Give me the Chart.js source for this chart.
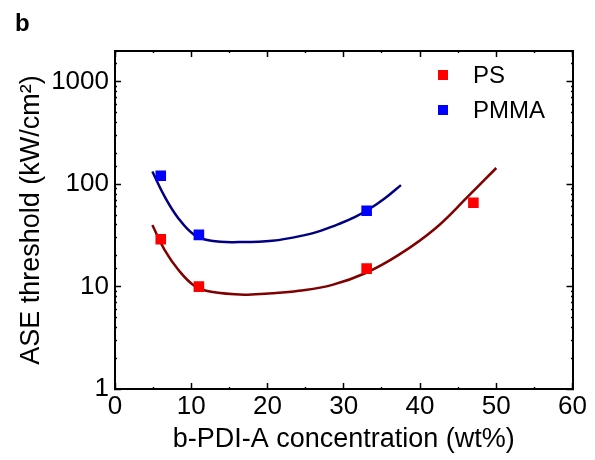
<!DOCTYPE html>
<html><head><meta charset="utf-8">
<script src="https://cdn.jsdelivr.net/npm/chart.js@4.4.1/dist/chart.umd.min.js"></script>
<style>html,body{margin:0;padding:0;background:#fff}#wrap{width:595px;height:460px}</style>
</head><body><div id="wrap"><canvas id="c" width="595" height="460"></canvas></div>
<script>
// measured data points
const psX = [6, 11, 33, 47];
const psY = [29, 10, 15, 66];
const pmmaX = [6, 11, 33];
const pmmaY = [121, 32, 55];
// fitted curves
const psFitX = [4.9, 6.5, 8.3, 10.4, 12.6, 17, 20.6, 24.1, 28.5, 32.8, 37.2, 42, 46.3, 50];
const psFitY = [40, 22.8, 14.6, 10.2, 8.9, 8.35, 8.6, 9.1, 10.4, 13.5, 20.4, 37, 76, 144];
const pmmaFitX = [4.9, 6.5, 8.3, 10.4, 12.6, 16.3, 20.6, 25, 27.2, 29.4, 31.5, 33.3, 35.4, 37.5];
const pmmaFitY = [133, 76, 46.6, 32, 28, 27.2, 28, 32, 35.6, 41, 48, 57, 73, 98];
const xTickLabels = [0, 10, 20, 30, 40, 50, 60];
const yTickLabels = [1, 10, 100, 1000];
const seriesNames = ['PS', 'PMMA'];

const FONT = "'Liberation Sans', Arial, Helvetica, sans-serif";
const pts = (xs, ys) => xs.map((x, i) => ({x: x, y: ys[i]}));
const isDecade = v => Math.abs(Math.log10(v) - Math.round(Math.log10(v))) < 1e-9;

const legendPlugin = {
  id: 'boxLegend',
  afterDatasetsDraw(chart) {
    const {ctx, chartArea: a} = chart;
    ctx.save();
    ctx.font = "24px " + FONT;
    ctx.textBaseline = 'alphabetic';
    ctx.textAlign = 'left';
    [0, 1].forEach(i => {
      const ds = chart.data.datasets[i];
      const cy = a.top + 24 + i * 35;
      ctx.fillStyle = ds.backgroundColor;
      ctx.fillRect(a.left + 323, cy - 5, 10, 10);
      ctx.fillStyle = '#000';
      ctx.fillText(ds.label, a.left + 358, cy + 8);
    });
    ctx.restore();
  }
};

const tickDashIn = ctx => (ctx.tick && isDecade(ctx.tick.value)) ? [] : [3, 20];
const tickDashOut = ctx => (ctx.tick && isDecade(ctx.tick.value)) ? [] : [0, 4, 4, 20];
const xDashIn = ctx => (ctx.tick && ctx.tick.value % 10 === 0) ? [] : [3, 20];
const xDashOut = ctx => (ctx.tick && ctx.tick.value % 10 === 0) ? [] : [0, 4, 4, 20];

const baseGrid = {drawOnChartArea: false, drawTicks: true, tickLength: -6, tickColor: '#000', tickWidth: 1.5};
const border = {display: true, color: '#000', width: 2};

new Chart(document.getElementById('c'), {
  type: 'scatter',
  data: {
    datasets: [
      {label: seriesNames[0], data: pts(psX, psY), backgroundColor: '#ff0000', borderWidth: 0,
       pointStyle: 'rect', pointRadius: 7.5, order: 1},
      {label: seriesNames[1], data: pts(pmmaX, pmmaY), backgroundColor: '#0000ff', borderWidth: 0,
       pointStyle: 'rect', pointRadius: 7.5, order: 1},
      {type: 'line', label: 'PS fit', data: pts(psFitX, psFitY), borderColor: '#800000', borderWidth: 2.5,
       pointRadius: 0, tension: 0.4, fill: false, order: 2},
      {type: 'line', label: 'PMMA fit', data: pts(pmmaFitX, pmmaFitY), borderColor: '#000080', borderWidth: 2.5,
       pointRadius: 0, tension: 0.4, fill: false, order: 2}
    ]
  },
  options: {
    responsive: false,
    animation: false,
    layout: {padding: {left: 15, right: 0, top: 0, bottom: 0}},
    plugins: {
      legend: {display: false},
      tooltip: {enabled: false},
      title: {display: true, text: 'b', align: 'start', color: '#000',
              font: {family: FONT, size: 24, weight: 'bold'}, padding: {top: 10, bottom: 0}}
    },
    scales: {
      x: {
        type: 'linear', position: 'bottom', min: 0, max: 60,
        ticks: {stepSize: 5, autoSkip: false, maxRotation: 0, padding: 8, color: '#000',
                font: {family: FONT, size: 26},
                callback: v => xTickLabels.includes(v) ? String(v) : ''},
        grid: Object.assign({}, baseGrid, {tickBorderDash: xDashIn}),
        border: border,
        title: {display: true, text: 'b-PDI-A concentration (wt%)', color: '#000',
                font: {family: FONT, size: 27}, padding: {top: 0, bottom: 4}},
        afterFit: s => { s.height = 71; }
      },
      x2: {
        type: 'linear', position: 'top', min: 0, max: 60, display: true,
        ticks: {display: false, stepSize: 5, autoSkip: false},
        grid: Object.assign({}, baseGrid, {tickBorderDash: xDashOut}),
        border: border,
        afterFit: s => { s.height = 12.2; }
      },
      y: {
        type: 'logarithmic', position: 'left', min: 1, max: 2000,
        ticks: {autoSkip: false, padding: 12, color: '#000', font: {family: FONT, size: 26},
                callback: v => yTickLabels.includes(v) ? String(v) : ''},
        grid: Object.assign({}, baseGrid, {tickBorderDash: tickDashOut}),
        border: border,
        title: {display: true, text: 'ASE threshold (kW/cm²)', color: '#000',
                font: {family: FONT, size: 27}, padding: {top: 0, bottom: 0}},
        afterFit: s => { s.width = 100; }
      },
      y2: {
        type: 'logarithmic', position: 'right', min: 1, max: 2000, display: true,
        ticks: {display: false, autoSkip: false},
        grid: Object.assign({}, baseGrid, {tickBorderDash: tickDashIn}),
        border: border,
        afterFit: s => { s.width = 20; }
      }
    }
  },
  plugins: [legendPlugin]
});
</script>
</body></html>
